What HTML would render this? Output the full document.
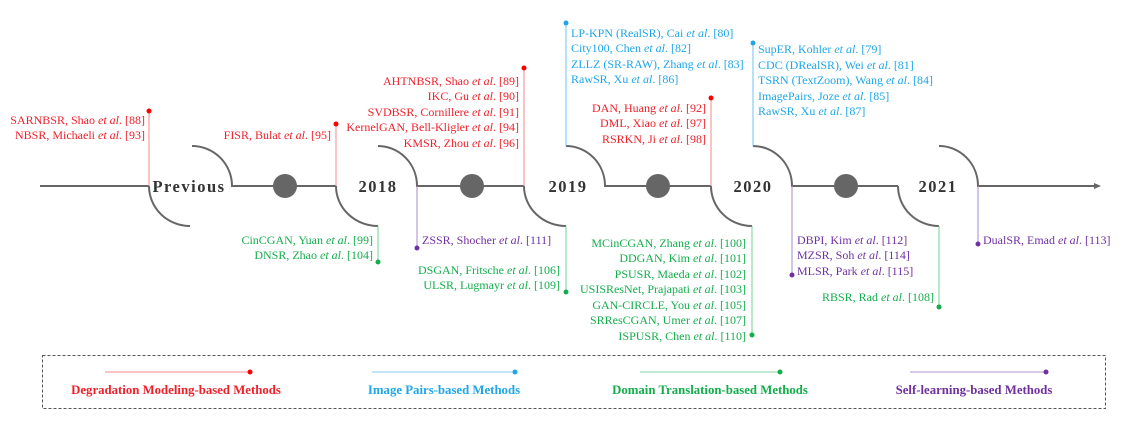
<!DOCTYPE html>
<html><head><meta charset="utf-8"><style>
html,body{margin:0;padding:0;background:#fff;}
svg{display:block;}
text{font-family:"Liberation Serif",serif;font-size:12px;}
.r{fill:#f0202a}.b{fill:#1ea6e8}.g{fill:#14ad4c}.p{fill:#7030a0}
.yr text{font-weight:bold;font-size:16.5px;fill:#333;letter-spacing:1.5px}
.lg text{font-weight:bold;font-size:12.8px}
</style></head><body>
<svg width="1144" height="429" viewBox="0 0 1144 429" xmlns="http://www.w3.org/2000/svg">
<g stroke="#666" stroke-width="2" fill="none">
<path d="M40 186H149"/>
<path d="M149 186A41 40 0 0 0 190 226"/>
<path d="M192 146A40 40 0 0 1 232 186H336"/>
<path d="M336 186A42 40 0 0 0 378 226"/>
<path d="M378 146A39 40 0 0 1 417 186H524"/>
<path d="M524 186A42 40 0 0 0 566 226"/>
<path d="M566 146A39 40 0 0 1 605 186H711"/>
<path d="M711 186A41 40 0 0 0 752 226"/>
<path d="M753 146A39 40 0 0 1 792 186H898"/>
<path d="M898 186A41 40 0 0 0 939 226"/>
<path d="M939 146A39 40 0 0 1 978 186H1098"/>
</g>
<path d="M1094 183L1101 186L1094 189Z" fill="#666"/>
<g fill="#666"><circle cx="285" cy="186" r="12"/><circle cx="472" cy="186" r="12"/><circle cx="658" cy="186" r="12"/><circle cx="846" cy="186" r="12"/></g>
<g class="yr" text-anchor="middle"><text x="189" y="192">Previous</text><text x="378" y="192">2018</text><text x="568" y="192">2019</text><text x="753" y="192">2020</text><text x="938" y="192">2021</text></g>
<g stroke-width="1" fill="none">
<path d="M149 111V186" stroke="#f48a8a"/><path d="M336 124V186" stroke="#f48a8a"/><path d="M524 68V186" stroke="#f48a8a"/><path d="M711 98V186" stroke="#f48a8a"/>
<path d="M566 23V146" stroke="#6cc4f0"/><path d="M753 43V146" stroke="#6cc4f0"/>
<path d="M378 226V262" stroke="#6fd08f"/><path d="M566 226V292" stroke="#6fd08f"/><path d="M752 226V335" stroke="#6fd08f"/><path d="M939 226V307" stroke="#6fd08f"/>
<path d="M417 186V248" stroke="#a98acb"/><path d="M792 186V275" stroke="#a98acb"/><path d="M978 186V244" stroke="#a98acb"/>
</g>
<g><circle cx="149" cy="111" r="2.5" fill="#f00"/><circle cx="336" cy="124" r="2.5" fill="#f00"/><circle cx="524" cy="68" r="2.5" fill="#f00"/><circle cx="711" cy="98" r="2.5" fill="#f00"/>
<circle cx="566" cy="23" r="2.5" fill="#1ea6e8"/><circle cx="753" cy="43" r="2.5" fill="#1ea6e8"/>
<circle cx="378" cy="262" r="2.5" fill="#14ad4c"/><circle cx="566" cy="292" r="2.5" fill="#14ad4c"/><circle cx="752" cy="335" r="2.5" fill="#14ad4c"/><circle cx="939" cy="307" r="2.5" fill="#14ad4c"/>
<circle cx="417" cy="248" r="2.5" fill="#7030a0"/><circle cx="792" cy="275" r="2.5" fill="#7030a0"/><circle cx="978" cy="244" r="2.5" fill="#7030a0"/></g>
<g class="r" text-anchor="end">
<text x="145" y="124">SARNBSR, Shao <tspan font-style="italic">et al</tspan>. [88]</text>
<text x="145" y="139">NBSR, Michaeli <tspan font-style="italic">et al</tspan>. [93]</text>
<text x="331" y="139">FISR, Bulat <tspan font-style="italic">et al</tspan>. [95]</text>
<text x="519" y="85">AHTNBSR, Shao <tspan font-style="italic">et al</tspan>. [89]</text>
<text x="519" y="100">IKC,  Gu <tspan font-style="italic">et al</tspan>. [90]</text>
<text x="519" y="116">SVDBSR, Cornillere <tspan font-style="italic">et al</tspan>.  [91]</text>
<text x="519" y="131">KernelGAN, Bell-Kligler <tspan font-style="italic">et al</tspan>.  [94]</text>
<text x="519" y="147">KMSR, Zhou <tspan font-style="italic">et al</tspan>.  [96]</text>
<text x="706" y="112">DAN, Huang <tspan font-style="italic">et al</tspan>. [92]</text>
<text x="706" y="127">DML, Xiao <tspan font-style="italic">et al</tspan>. [97]</text>
<text x="706" y="143">RSRKN, Ji <tspan font-style="italic">et al</tspan>. [98]</text>
</g>
<g class="b">
<text x="571" y="37">LP-KPN (RealSR), Cai  <tspan font-style="italic">et al</tspan>. [80]</text>
<text x="571" y="52">City100, Chen  <tspan font-style="italic">et al</tspan>. [82]</text>
<text x="571" y="68">ZLLZ (SR-RAW), Zhang <tspan font-style="italic">et al</tspan>. [83]</text>
<text x="571" y="83">RawSR, Xu  <tspan font-style="italic">et al</tspan>. [86]</text>
<text x="758" y="53">SupER, Kohler  <tspan font-style="italic">et al</tspan>. [79]</text>
<text x="758" y="69">CDC (DRealSR), Wei  <tspan font-style="italic">et al</tspan>. [81]</text>
<text x="758" y="84">TSRN (TextZoom), Wang <tspan font-style="italic">et al</tspan>. [84]</text>
<text x="758" y="100">ImagePairs, Joze <tspan font-style="italic">et al</tspan>. [85]</text>
<text x="758" y="115">RawSR, Xu  <tspan font-style="italic">et al</tspan>. [87]</text>
</g>
<g class="g" text-anchor="end">
<text x="373" y="244">CinCGAN, Yuan <tspan font-style="italic">et al</tspan>. [99]</text>
<text x="373" y="259">DNSR, Zhao <tspan font-style="italic">et al</tspan>. [104]</text>
<text x="560" y="274">DSGAN, Fritsche <tspan font-style="italic">et al</tspan>. [106]</text>
<text x="560" y="289">ULSR,  Lugmayr <tspan font-style="italic">et al</tspan>. [109]</text>
<text x="746" y="247">MCinCGAN, Zhang <tspan font-style="italic">et al</tspan>. [100]</text>
<text x="746" y="262">DDGAN, Kim <tspan font-style="italic">et al</tspan>. [101]</text>
<text x="746" y="278">PSUSR, Maeda <tspan font-style="italic">et al</tspan>. [102]</text>
<text x="746" y="293">USISResNet, Prajapati <tspan font-style="italic">et al</tspan>. [103]</text>
<text x="746" y="309">GAN-CIRCLE, You <tspan font-style="italic">et al</tspan>. [105]</text>
<text x="746" y="324">SRResCGAN, Umer <tspan font-style="italic">et al</tspan>. [107]</text>
<text x="746" y="340">ISPUSR, Chen <tspan font-style="italic">et al</tspan>. [110]</text>
<text x="934" y="301">RBSR, Rad <tspan font-style="italic">et al</tspan>. [108]</text>
</g>
<g class="p">
<text x="422" y="244">ZSSR, Shocher <tspan font-style="italic">et al</tspan>. [111]</text>
<text x="797" y="244">DBPI, Kim <tspan font-style="italic">et al</tspan>. [112]</text>
<text x="797" y="259">MZSR, Soh <tspan font-style="italic">et al</tspan>. [114]</text>
<text x="797" y="275">MLSR, Park <tspan font-style="italic">et al</tspan>. [115]</text>
<text x="983" y="244">DualSR, Emad <tspan font-style="italic">et al</tspan>. [113]</text>
</g>
<rect x="42.5" y="355.5" width="1063" height="53" fill="none" stroke="#555" stroke-width="1" stroke-dasharray="3,2"/>
<g stroke-width="1.2">
<path d="M105 372H250" stroke="#f6a0a0"/><path d="M372 372H515" stroke="#9ed6f3"/><path d="M640 372H780" stroke="#9fdcb4"/><path d="M910 372H1046" stroke="#c2a8dc"/>
</g>
<circle cx="250" cy="372" r="2.5" fill="#f00"/><circle cx="515" cy="372" r="2.5" fill="#1ea6e8"/><circle cx="780" cy="372" r="2.5" fill="#14ad4c"/><circle cx="1046" cy="372" r="2.5" fill="#7030a0"/>
<g class="lg" text-anchor="middle">
<text class="r" x="176" y="394">Degradation Modeling-based Methods</text>
<text class="b" x="444" y="394">Image Pairs-based Methods</text>
<text class="g" x="710" y="394">Domain Translation-based Methods</text>
<text class="p" x="974" y="394">Self-learning-based Methods</text>
</g>
</svg>
</body></html>
